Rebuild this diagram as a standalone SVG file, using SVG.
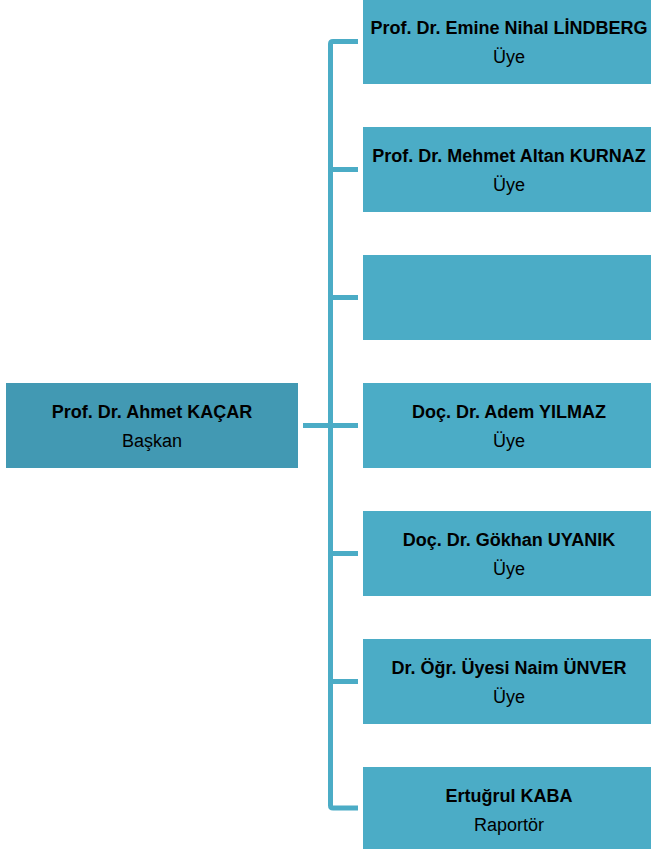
<svg xmlns="http://www.w3.org/2000/svg" width="651" height="849" viewBox="0 0 651 849">
<style>
.n{fill:#4BACC6}
.h{fill:#4299B3}
.t1{font-family:"Liberation Sans",Arial,sans-serif;font-size:18px;font-weight:bold;fill:#000;text-anchor:middle}
.t2{font-family:"Liberation Sans",Arial,sans-serif;font-size:18px;fill:#000;text-anchor:middle}
.c{fill:none;stroke:#4BACC6;stroke-width:5}
</style>
<g id="connectors">
<path class="c" d="M358 41.5 H333 Q330.5 41.5 330.5 44 V805.5 Q330.5 808 333 808 H358"/>
<path class="c" d="M330.5 169.5 H358 M330.5 297.5 H358 M303 425.5 H358 M330.5 553.5 H358 M330.5 681.5 H358"/>
</g>
<g id="baskan"><rect class="h" x="6" y="383" width="292" height="85"/><text class="t1" x="152" y="418">Prof. Dr. Ahmet KAÇAR</text><text class="t2" x="152" y="447">Başkan</text></g>
<g id="lindberg"><rect class="n" x="363" y="-1" width="292" height="85"/><text class="t1" x="509" y="34">Prof. Dr. Emine Nihal LİNDBERG</text><text class="t2" x="509" y="63">Üye</text></g>
<g id="kurnaz"><rect class="n" x="363" y="127" width="292" height="85"/><text class="t1" x="509" y="162">Prof. Dr. Mehmet Altan KURNAZ</text><text class="t2" x="509" y="191">Üye</text></g>
<g id="bos"><rect class="n" x="363" y="255" width="292" height="85"/></g>
<g id="yilmaz"><rect class="n" x="363" y="383" width="292" height="85"/><text class="t1" x="509" y="418">Doç. Dr. Adem YILMAZ</text><text class="t2" x="509" y="447">Üye</text></g>
<g id="uyanik"><rect class="n" x="363" y="511" width="292" height="85"/><text class="t1" x="509" y="546">Doç. Dr. Gökhan UYANIK</text><text class="t2" x="509" y="575">Üye</text></g>
<g id="unver"><rect class="n" x="363" y="639" width="292" height="85"/><text class="t1" x="509" y="674">Dr. Öğr. Üyesi Naim ÜNVER</text><text class="t2" x="509" y="703">Üye</text></g>
<g id="kaba"><rect class="n" x="363" y="767" width="292" height="85"/><text class="t1" x="509" y="802">Ertuğrul KABA</text><text class="t2" x="509" y="831">Raportör</text></g>
</svg>
